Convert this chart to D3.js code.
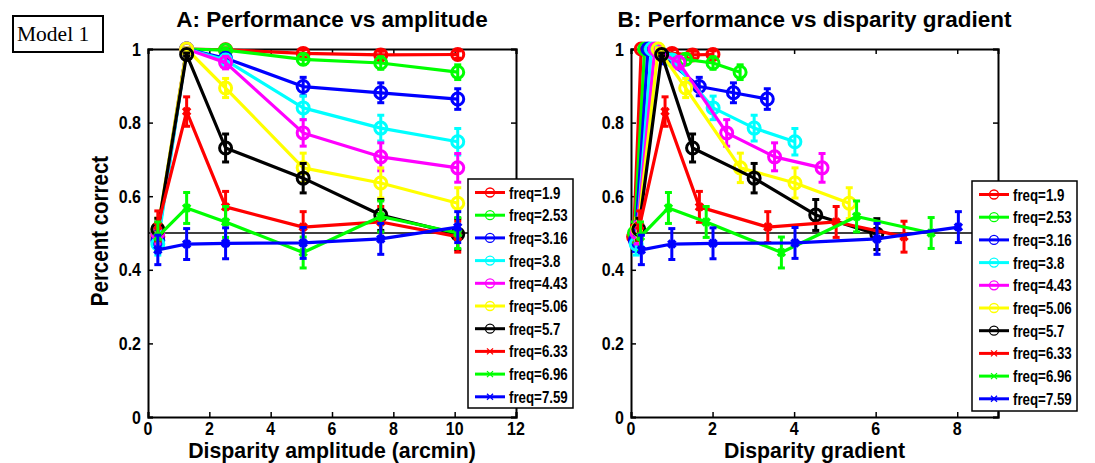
<!DOCTYPE html>
<html><head><meta charset="utf-8">
<script src="https://cdn.jsdelivr.net/npm/d3@7"></script>
<style>body{margin:0;background:#fff}svg{display:block}</style>
</head><body>
<svg id="c" width="1095" height="463"></svg>
<script>
// ---------- DATA ----------
const freqLabels = ["freq=1.9","freq=2.53","freq=3.16","freq=3.8","freq=4.43","freq=5.06","freq=5.7","freq=6.33","freq=6.96","freq=7.59"];
const seriesColors = ["#ff0000","#00ff00","#0000ff","#00ffff","#ff00ff","#ffff00","#000000","#ff0000","#00ff00","#0000ff"];
const seriesMarkers = ["o","o","o","o","o","o","o","x","x","x"];
const amplitude = [0.32, 1.26, 2.53, 5.06, 7.59, 10.1];
// percent correct per series
const pct1 = [0.49, 1.0, 0.998, 0.988, 0.984, 0.985];
const pct2 = [0.50, 1.0, 0.997, 0.972, 0.962, 0.937];
const pct3 = [0.48, 1.0, 0.975, 0.898, 0.881, 0.864];
const pct4 = [0.47, 1.0, 0.970, 0.840, 0.785, 0.748];
const pct5 = [0.50, 1.0, 0.963, 0.772, 0.707, 0.677];
const pct6 = [0.51, 1.0, 0.894, 0.677, 0.636, 0.581];
const pct7 = [0.51, 0.985, 0.731, 0.649, 0.549, 0.497];
const pct8 = [0.52, 0.830, 0.571, 0.516, 0.530, 0.490];
const pct9 = [0.49, 0.568, 0.530, 0.447, 0.545, 0.500];
const pct10 = [0.454, 0.470, 0.472, 0.473, 0.484, 0.516];
// error bar half-lengths per series
const err1 = [0.03, 0.003, 0.005, 0.010, 0.010, 0.010];
const err2 = [0.03, 0.003, 0.006, 0.014, 0.017, 0.020];
const err3 = [0.03, 0.003, 0.013, 0.025, 0.027, 0.028];
const err4 = [0.03, 0.003, 0.014, 0.032, 0.035, 0.036];
const err5 = [0.03, 0.003, 0.017, 0.036, 0.038, 0.039];
const err6 = [0.03, 0.003, 0.026, 0.040, 0.041, 0.042];
const err7 = [0.03, 0.004, 0.038, 0.040, 0.042, 0.042];
const err8 = [0.04, 0.040, 0.042, 0.042, 0.042, 0.042];
const err9 = [0.04, 0.042, 0.042, 0.042, 0.042, 0.042];
const err10 = [0.04, 0.042, 0.042, 0.042, 0.042, 0.042];
// disparity gradient per series (panel B x values)
const grad1 = [0.064, 0.251, 0.503, 1.007, 1.510, 2.010];
const grad2 = [0.085, 0.334, 0.670, 1.341, 2.011, 2.676];
const grad3 = [0.106, 0.417, 0.837, 1.674, 2.512, 3.342];
const grad4 = [0.127, 0.501, 1.007, 2.014, 3.020, 4.019];
const grad5 = [0.148, 0.585, 1.174, 2.347, 3.521, 4.685];
const grad6 = [0.170, 0.668, 1.341, 2.681, 4.022, 5.352];
const grad7 = [0.191, 0.752, 1.510, 3.020, 4.530, 6.029];
const grad8 = [0.212, 0.835, 1.677, 3.354, 5.031, 6.695];
const grad9 = [0.233, 0.918, 1.844, 3.688, 5.532, 7.361];
const grad10 = [0.254, 1.001, 2.011, 4.022, 6.033, 8.028];
const yTicks = [0, 0.2, 0.4, 0.6, 0.8, 1];
const yTickLabels = ["0","0.2","0.4","0.6","0.8","1"];
const xTicksA = [0, 2, 4, 6, 8, 10, 12];
const xTicksB = [0, 2, 4, 6, 8];
const chance = 0.5;

const pcts = [pct1,pct2,pct3,pct4,pct5,pct6,pct7,pct8,pct9,pct10];
const errs = [err1,err2,err3,err4,err5,err6,err7,err8,err9,err10];
const grads = [grad1,grad2,grad3,grad4,grad5,grad6,grad7,grad8,grad9,grad10];

// ---------- DRAW ----------
const svg = d3.select("#c");
const FONT = "'Liberation Sans', Arial, Helvetica, sans-serif";

function label(parent, x, y, txt, size, anchor, sy, rot){
  const t = parent.append("text")
    .attr("transform", `translate(${x},${y})` + (rot ? ` rotate(${rot})` : "") + ` scale(1,${sy})`)
    .attr("text-anchor", anchor).attr("font-family", FONT).attr("font-weight","bold")
    .attr("font-size", size).attr("fill","#000").text(txt);
  return t;
}

// Model 1 box
svg.append("rect").attr("x",13).attr("y",16).attr("width",90).attr("height",36)
  .attr("fill","#fff").attr("stroke","#000").attr("stroke-width",2);
svg.append("text").attr("x",17).attr("y",41)
  .attr("font-family","'Liberation Serif','Times New Roman',serif").attr("font-size",21.5)
  .text("Model 1");

function panel(opts){
  const x = d3.scaleLinear().domain(opts.xDomain).range([opts.left, opts.right]);
  const y = d3.scaleLinear().domain([0,1]).range([417, 49]);
  const g = svg.append("g");
  g.append("rect").attr("x",opts.left).attr("y",49).attr("width",opts.right-opts.left).attr("height",368)
    .attr("fill","#fff").attr("stroke","none");
  // chance line
  g.append("line").attr("x1",opts.left).attr("x2",opts.right).attr("y1",y(chance)).attr("y2",y(chance))
    .attr("stroke","#000").attr("stroke-width",1.6);
  // axes (ticks inward, labels drawn separately)
  const tl = 5;
  const axB = d3.axisBottom(x).tickValues(opts.xTicks).tickSize(-tl).tickFormat("");
  const axT = d3.axisTop(x).tickValues(opts.xTicks).tickSize(-tl).tickFormat("");
  const axL = d3.axisLeft(y).tickValues(yTicks).tickSize(-tl).tickFormat("");
  const axR = d3.axisRight(y).tickValues(yTicks).tickSize(-tl).tickFormat("");
  const axes = g.append("g");
  axes.append("g").attr("transform",`translate(0,417)`).call(axB);
  axes.append("g").attr("transform",`translate(0,49)`).call(axT);
  axes.append("g").attr("transform",`translate(${opts.left},0)`).call(axL);
  axes.append("g").attr("transform",`translate(${opts.right},0)`).call(axR);
  axes.selectAll(".domain").attr("stroke","#000").attr("stroke-width",2);
  axes.selectAll(".tick line").attr("stroke","#000").attr("stroke-width",1.5);
  // tick labels
  opts.xTicks.forEach(v => label(g, x(v), 435, d3.format("d")(v), 16, "middle", 1.15));
  yTicks.forEach((v,i) => label(g, opts.left-7, y(v)+6.5, yTickLabels[i], 16, "end", 1.15));

  // data
  const data = g.append("g");
  pcts.forEach((vals, si) => {
    const xs = opts.xs(si);
    const col = seriesColors[si];
    const pts = vals.map((v,i)=>({x:xs[i], y:v, e:errs[si][i]}));
    pts.forEach(p=>{
      data.append("line").attr("x1",x(p.x)).attr("x2",x(p.x)).attr("y1",y(p.y-p.e)).attr("y2",y(p.y+p.e))
        .attr("stroke",col).attr("stroke-width",3);
      [p.y-p.e, p.y+p.e].forEach(yy=>{
        data.append("line").attr("x1",x(p.x)-3.5).attr("x2",x(p.x)+3.5).attr("y1",y(yy)).attr("y2",y(yy))
          .attr("stroke",col).attr("stroke-width",3);
      });
    });
    data.append("path").attr("d", d3.line().x(p=>x(p.x)).y(p=>y(p.y))(pts))
      .attr("fill","none").attr("stroke",col).attr("stroke-width",3.2).attr("stroke-linejoin","round");
    pts.forEach(p=>{
      if (seriesMarkers[si]==="o"){
        data.append("circle").attr("cx",x(p.x)).attr("cy",y(p.y)).attr("r",6)
          .attr("fill","none").attr("stroke",col).attr("stroke-width",3);
      } else {
        const s=3.5, cx=x(p.x), cy=y(p.y);
        data.append("path").attr("d",`M${cx-s},${cy-s}L${cx+s},${cy+s}M${cx-s},${cy+s}L${cx+s},${cy-s}`)
          .attr("stroke",col).attr("stroke-width",3.5).attr("fill","none");
        data.append("circle").attr("cx",cx).attr("cy",cy).attr("r",3).attr("fill",col);
      }
    });
  });

  // title and x label
  const cx = (opts.left+opts.right)/2;
  label(svg, cx, 27, opts.title, 22.5, "middle", 1.0);
  label(svg, cx, 458, opts.xLabel, 21.3, "middle", 1.0);

  // legend
  const L = opts.legend;
  const lg = svg.append("g");
  lg.append("rect").attr("x",L.x).attr("y",L.y).attr("width",L.w).attr("height",L.h)
    .attr("fill","#fff").attr("stroke","#000").attr("stroke-width",1.5);
  freqLabels.forEach((lab,i)=>{
    const yy = L.y + 13.5 + i*22.7;
    const col = seriesColors[i];
    lg.append("line").attr("x1",L.x+7).attr("x2",L.x+37).attr("y1",yy).attr("y2",yy)
      .attr("stroke",col).attr("stroke-width",3);
    const mx = L.x+22;
    if (seriesMarkers[i]==="o"){
      lg.append("circle").attr("cx",mx).attr("cy",yy).attr("r",4.5).attr("fill","none").attr("stroke",col).attr("stroke-width",1.3);
    } else {
      const s=3;
      lg.append("path").attr("d",`M${mx-s},${yy-s}L${mx+s},${yy+s}M${mx-s},${yy+s}L${mx+s},${yy-s}`)
        .attr("stroke",col).attr("stroke-width",1.3);
    }
    label(lg, L.x+41, yy+6, lab, 13.3, "start", 1.2);
  });
}

panel({left:148, right:516, xDomain:[0,12], xTicks:xTicksA, xs:si=>amplitude,
  title:"A: Performance vs amplitude", xLabel:"Disparity amplitude (arcmin)",
  legend:{x:468,y:179,w:105,h:229}});
panel({left:631, right:998, xDomain:[0,9], xTicks:xTicksB, xs:si=>grads[si],
  title:"B: Performance vs disparity gradient", xLabel:"Disparity gradient",
  legend:{x:972,y:181,w:105,h:230}});

// y label
label(svg, 108, 231, "Percent correct", 20.5, "middle", 1.15, -90);
</script>
</body></html>
